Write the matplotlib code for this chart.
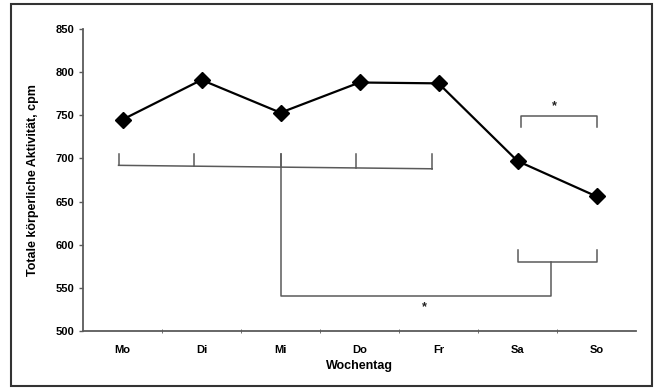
import numpy as np
import matplotlib.pyplot as plt
from matplotlib.patches import Rectangle

plt.rcParams['font.family'] = ['Liberation Sans', 'DejaVu Sans']
plt.rcParams['font.weight'] = 'bold'

# Daten
tage = ['Mo', 'Di', 'Mi', 'Do', 'Fr', 'Sa', 'So']
aktivitaet = [745, 791, 753, 788, 787, 697, 656]

# Klammern (x in Kategorien, y in cpm)
br_woche_x = [-0.05, 0.9, 2.0, 2.95, 3.92]
br_woche_oben = 705
br_woche_unten = [692, 691, 690, 689, 688]
br_lang_y = 540
br_lang_x0 = 2.0
br_lang_x1 = 5.43
br_we_x = [5.0, 6.0]
br_we_unten = 580
br_we_oben = 594
br_sa_so_x = [5.05, 6.0]
br_sa_so_y = 749
br_sa_so_tick = 737
sterne = [(3.82, 528), (5.47, 760)]

fig = plt.figure(figsize=(6.57, 3.89), dpi=100)
fig.patches.append(Rectangle((11/657, 3/389), 641/657, 382/389, transform=fig.transFigure,
                             fill=False, edgecolor='#333333', linewidth=1.5))
ax = fig.add_axes([83/657, 58/389, 553/657, 302/389])

x = np.arange(len(tage))
grau = '#5a5a5a'
lw = 1.1

# Klammer Mo-Fr
ax.plot([br_woche_x[0], br_woche_x[-1]], [br_woche_unten[0], br_woche_unten[-1]], color=grau, lw=lw)
for xi, yu in zip(br_woche_x, br_woche_unten):
    ax.plot([xi, xi], [yu, br_woche_oben], color=grau, lw=lw)
# lange Verbindung zu Wochenende
ax.plot([br_lang_x0, br_lang_x0, br_lang_x1, br_lang_x1],
        [br_woche_oben, br_lang_y, br_lang_y, br_we_unten], color=grau, lw=lw)
# Klammer Sa-So unten
ax.plot([br_we_x[0], br_we_x[0], br_we_x[1], br_we_x[1]],
        [br_we_oben, br_we_unten, br_we_unten, br_we_oben], color=grau, lw=lw)
# Klammer Sa-So oben
ax.plot([br_sa_so_x[0], br_sa_so_x[0], br_sa_so_x[1], br_sa_so_x[1]],
        [br_sa_so_tick, br_sa_so_y, br_sa_so_y, br_sa_so_tick], color=grau, lw=lw)
for sx, sy in sterne:
    ax.text(sx, sy, '*', ha='center', va='center', fontsize=9, color='#222222')

# Hauptlinie
ax.plot(x, aktivitaet, color='black', lw=1.6, marker='D', markersize=8, zorder=5)

ax.set_xlim(-0.5, 6.5)
ax.set_ylim(500, 850)
ax.set_yticks(np.arange(500, 851, 50))
ax.set_xticks(x)
ax.set_xticklabels(tage, fontsize=8, fontweight='bold')
ax.set_xticks(np.arange(0.5, 6, 1), minor=True)
ax.tick_params(axis='x', which='major', length=0, pad=10)
ax.tick_params(axis='x', which='minor', length=3, direction='inout', color=grau)
ax.tick_params(axis='y', labelsize=8, length=3, color=grau, width=1)
for lab in ax.get_yticklabels():
    lab.set_fontweight('bold')
ax.spines['top'].set_visible(False)
ax.spines['right'].set_visible(False)
ax.spines['left'].set_color(grau)
ax.spines['bottom'].set_color(grau)
ax.spines['left'].set_linewidth(1.3)
ax.spines['bottom'].set_linewidth(1.3)

ax.set_xlabel('Wochentag', fontsize=9, fontweight='bold', labelpad=4)
ax.set_ylabel('Totale körperliche Aktivität, cpm', fontsize=9, fontweight='bold', labelpad=12)

fig.savefig('out.png', dpi=100)
